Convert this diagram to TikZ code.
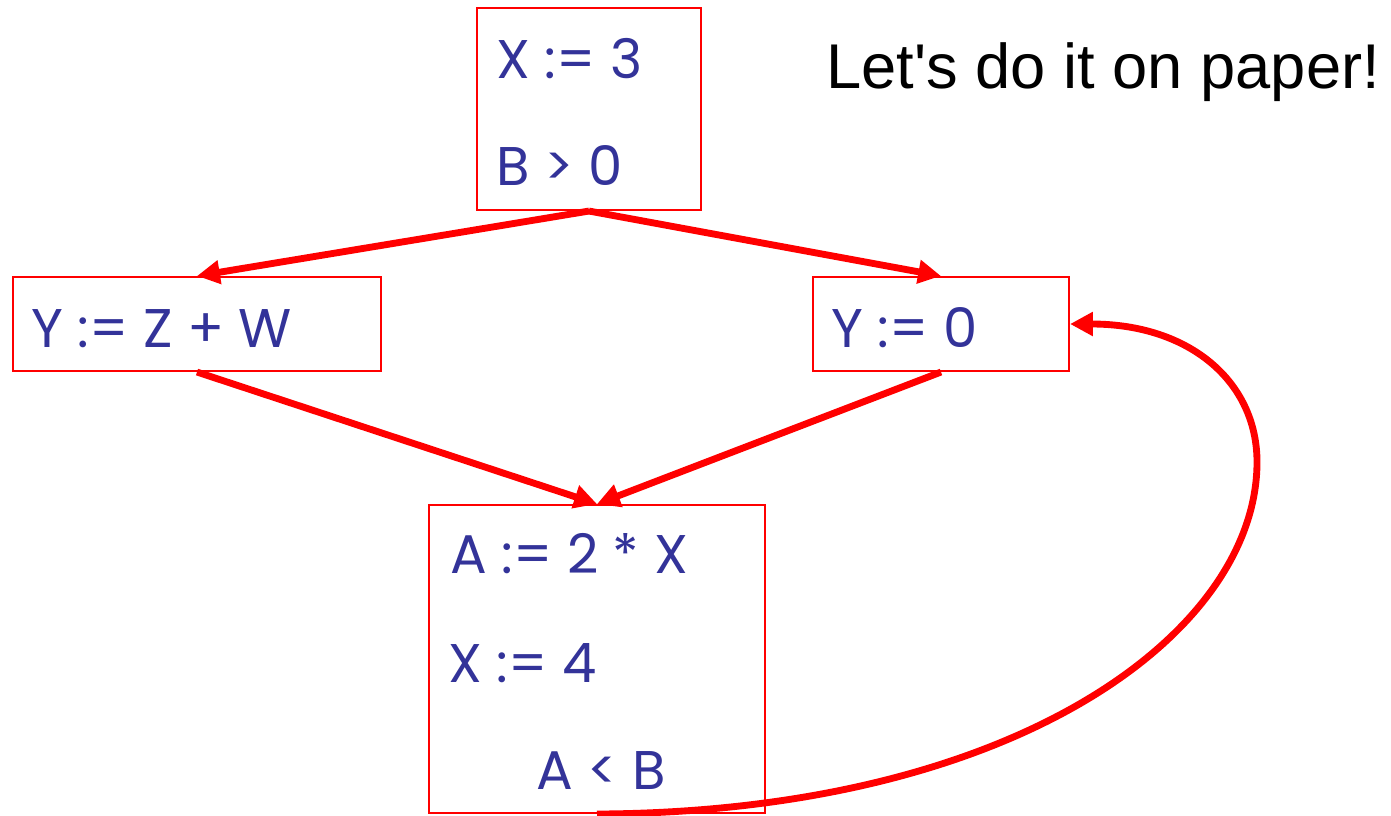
\documentclass[tikz,border=0pt]{standalone}
\usepackage{fontspec}
\setmainfont{Poppins}
\newfontfamily\headfont{Liberation Sans}
\usetikzlibrary{arrows.meta,positioning}

\begin{document}
\begin{tikzpicture}[
    x=0.02cm, y=-0.02cm,
    box/.style={draw=red, line width=1.2pt, inner sep=0pt},
    code/.style={anchor=base west, inner sep=0pt, text=stm,
        font=\fontsize{31}{36}\selectfont},
    flow/.style={draw=red, line width=3.9pt,
        -{Triangle[length=13pt,width=13pt]}}
]
\definecolor{stm}{RGB}{51,51,153}

    \useasboundingbox (0,0) rectangle (1391,815);

    % blocks
    \node [box, minimum width=4.48cm, minimum height=4.04cm] (t) at (589,109) {};
    \node [box, minimum width=7.36cm, minimum height=1.88cm] (l) at (197,324) {};
    \node [box, minimum width=5.12cm, minimum height=1.88cm] (r) at (941,324) {};
    \node [box, minimum width=6.72cm, minimum height=6.16cm] (b) at (597,659) {};

    % statements
    \node [code] (t1) at (496,78) {X := 3};
    \node [code] (t2) at (496,185) {B > 0};
    \node [code] (l1) at (31,347) {Y := Z + W};
    \node [code] (r1) at (831,347) {Y := 0};
    \node [code] (b1) at (450,573) {A := 2 * X};
    \node [code] (b2) at (448,682) {X := 4};
    \node [code] (b3) at (536,789) {A < B};

    \node [anchor=base west, inner sep=0pt,
        font=\headfont\fontsize{36}{40}\selectfont] (note) at (826,88)
        {Let's do it on paper!};

    % edges
    \draw [flow] (t.south) -- (l.north);
    \draw [flow] (t.south) -- (r.north);
    \draw [flow] (l.south) -- (b.north);
    \draw [flow] (r.south) -- (b.north);
    \draw [flow] (b.south)
        .. controls (1017,812) and (1257,632) .. (1257,462)
        .. controls (1257,382) and (1190,324) .. (r.east);
\end{tikzpicture}
\end{document}
